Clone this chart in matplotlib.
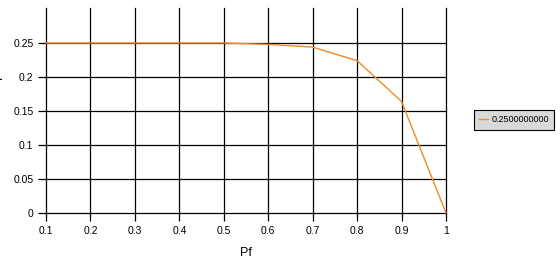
import matplotlib
matplotlib.use("Agg")
import matplotlib.pyplot as plt

pf = [0.1, 0.2, 0.3, 0.4, 0.5, 0.6, 0.7, 0.8, 0.9, 1.0]
values = [0.25, 0.25, 0.25, 0.25, 0.25, 0.248, 0.244, 0.224, 0.164, 0.0]
series_label = "0.2500000000"
xticks = [0.1, 0.2, 0.3, 0.4, 0.5, 0.6, 0.7, 0.8, 0.9, 1]
xticklabels = ["0.1", "0.2", "0.3", "0.4", "0.5", "0.6", "0.7", "0.8", "0.9", "1"]
yticks = [0, 0.05, 0.1, 0.15, 0.2, 0.25]
yticklabels = ["0", "0.05", "0.1", "0.15", "0.2", "0.25"]

plt.rcParams['font.family'] = ['Liberation Sans', 'DejaVu Sans']
fig = plt.figure(figsize=(5.6, 2.68), dpi=100)
ax = fig.add_axes([46/560, 1-213/268, 400/560, 205/268])
ax.plot(pf, values, color='#f08a24', lw=1.0, label=series_label, zorder=3, clip_on=False)
ax.set_xlim(0.1, 1.0)
ax.set_ylim(0, 0.3015)
ax.set_xticks(xticks)
ax.set_xticklabels(xticklabels, fontsize=7.5)
ax.set_yticks(yticks)
ax.set_yticklabels(yticklabels, fontsize=7.5)
ax.grid(True, color='black', lw=0.9)
for gl in ax.get_xgridlines() + ax.get_ygridlines():
    gl.set_clip_on(False)
for s in ['top', 'right', 'left', 'bottom']:
    ax.spines[s].set_visible(False)
ax.tick_params(axis='both', length=6, width=0.9, color='black', pad=3)
ax.set_xlabel("Pf", fontsize=9, labelpad=8)
fig.text(-0.012, 0.72, "P", rotation=90, fontsize=9, va='center', ha='left')
leg = ax.legend(loc='center left', bbox_to_anchor=(1.07, 0.455), fontsize=6.5,
                frameon=True, fancybox=False, handlelength=1.0, handletextpad=0.3,
                borderpad=0.6, borderaxespad=0)
leg.get_frame().set_facecolor('#d9d9d9')
leg.get_frame().set_edgecolor('black')
leg.get_frame().set_linewidth(0.8)
leg.get_frame().set_alpha(1)
fig.savefig("out.png", dpi=100)
